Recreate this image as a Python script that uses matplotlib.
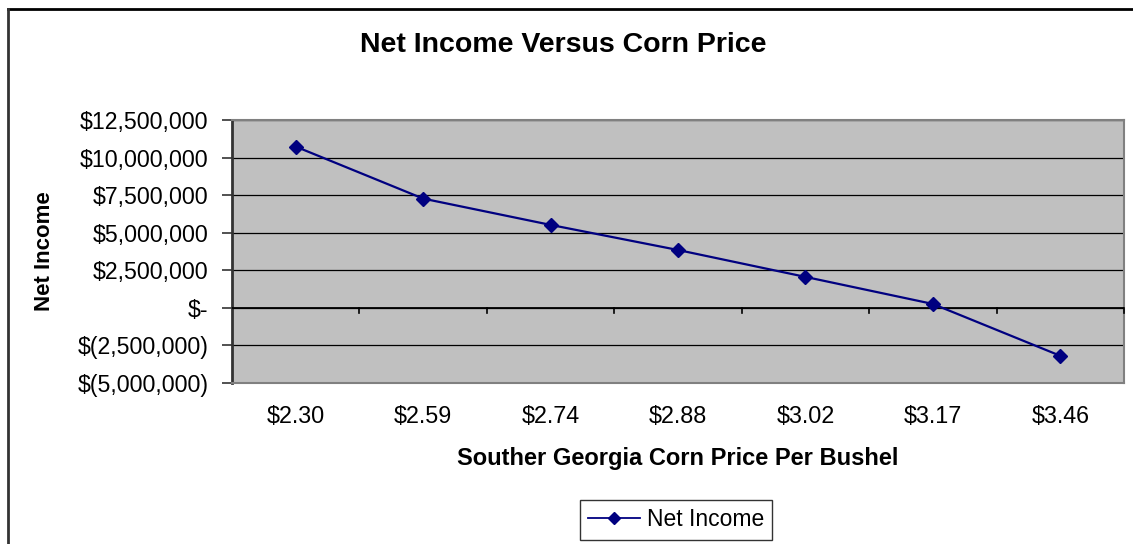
import matplotlib
matplotlib.use("Agg")
import matplotlib.pyplot as plt
from matplotlib.lines import Line2D
from matplotlib.ticker import FuncFormatter, MultipleLocator

plt.rcParams['font.family'] = ['Liberation Sans', 'DejaVu Sans']

prices = ["$2.30", "$2.59", "$2.74", "$2.88", "$3.02", "$3.17", "$3.46"]
net_income = [10730000, 7270000, 5520000, 3850000, 2060000, 260000, -3190000]

W, H = 1133, 544
fig = plt.figure(figsize=(W / 100, H / 100), dpi=100)
fig.patch.set_facecolor("white")

# plot area in pixel coordinates
left, right, top, bottom = 232, 1124, 120, 383
ax = fig.add_axes([left / W, 1 - bottom / H, (right - left) / W, (bottom - top) / H])
ax.set_facecolor("#c0c0c0")

x = list(range(len(prices)))
line, = ax.plot(x, net_income, color="#000080", lw=1.6, marker="D", ms=7,
                mfc="#000080", mec="#000080", zorder=5, label="Net Income")

ax.set_xlim(-0.5, len(prices) - 0.5)
ax.set_ylim(-5000000, 12500000)
ax.yaxis.set_major_locator(MultipleLocator(2500000))


def money(v, pos):
    if abs(v) < 1:
        return "$-"
    if v < 0:
        return "$({:,.0f})".format(-v)
    return "${:,.0f}".format(v)


ax.yaxis.set_major_formatter(FuncFormatter(money))
ax.grid(axis="y", color="#000000", lw=0.9)
ax.set_axisbelow(True)

ax.set_xticks(x)
ax.set_xticklabels(prices)
ax.tick_params(axis="x", length=0, labelsize=16.8, pad=16)
ax.tick_params(axis="y", length=7, width=1.2, color="#333333", labelsize=16.7, pad=10, direction="out")

for s in ["top", "right"]:
    ax.spines[s].set_color("#808080")
    ax.spines[s].set_lw(1.5)
ax.spines["bottom"].set_color("#808080")
ax.spines["bottom"].set_lw(1.5)
ax.spines["left"].set_color("#333333")
ax.spines["left"].set_lw(2)

# category axis crossing at zero with tick marks between categories
ax.axhline(0, color="#000000", lw=1.3, zorder=3)
for b in range(1, len(prices) + 1):
    ax.plot([b - 0.5, b - 0.5], [0, -350000], color="#000000", lw=1.2, zorder=3, clip_on=False)

fig.text(563 / W, 1 - 45 / H, "Net Income Versus Corn Price", ha="center", va="center",
         fontsize=20.5, fontweight="bold")
fig.text(678 / W, 1 - 458 / H, "Souther Georgia Corn Price Per Bushel", ha="center", va="center",
         fontsize=17, fontweight="bold")
fig.text(45 / W, 1 - 251 / H, "Net Income", ha="center", va="center", rotation=90,
         fontsize=16, fontweight="bold")

handle = Line2D([], [], color="#000080", lw=1.3, marker="D", ms=6, mfc="#000080", mec="#000080")
leg = fig.legend([handle], ["Net Income"], loc="center", bbox_to_anchor=(676 / W, 1 - 520 / H),
                 frameon=True, fancybox=False, edgecolor="#000000", fontsize=16.5,
                 handlelength=2.3, borderpad=0.35, handletextpad=0.3, borderaxespad=0.2)
leg.get_frame().set_linewidth(1)

# chart border (top and left edges)
fig.add_artist(Line2D([8 / W, 1], [1 - 9 / H, 1 - 9 / H], color="#000000", lw=2, transform=fig.transFigure))
fig.add_artist(Line2D([8 / W, 8 / W], [0, 1 - 9 / H], color="#333333", lw=2, transform=fig.transFigure))

fig.savefig("out.png", dpi=100)
